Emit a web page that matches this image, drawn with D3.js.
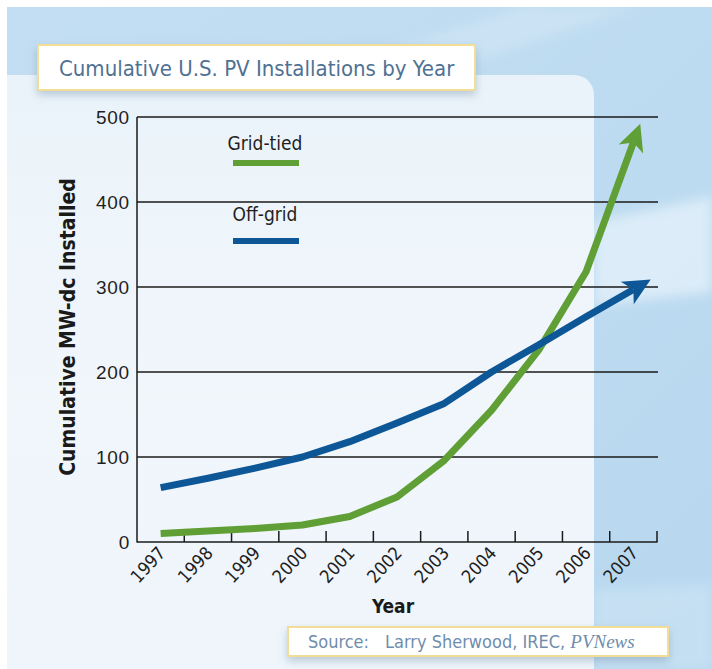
<!DOCTYPE html>
<html>
<head>
<meta charset="utf-8">
<script src="https://cdn.jsdelivr.net/npm/d3@7"></script>
<style>
  html, body { margin: 0; padding: 0; background: #fff; }
  svg { display: block; }
  .cond { font-family: "Liberation Sans Narrow", "DejaVu Sans Condensed", "Liberation Sans", sans-serif; }
</style>
</head>
<body>
<svg id="chart" width="712" height="669"></svg>
<script>
// Cumulative installed capacity (MW-dc) by year
const years = [1997, 1998, 1999, 2000, 2001, 2002, 2003, 2004, 2005, 2006, 2007];
const gridTied = [10, 13, 16, 20, 30, 53, 96, 155, 226, 318, 470];
const offGrid = [64, 75, 87, 100, 118, 140, 163, 200, 232, 265, 297];
const yTicks = [0, 100, 200, 300, 400, 500];
const seriesNames = ["Grid-tied", "Off-grid"];
const seriesColors = ["#5f9f35", "#0d5797"];

const svg = d3.select("#chart");
const defs = svg.append("defs");

// ---- background ----
const bg = defs.append("linearGradient").attr("id", "bgGrad")
  .attr("x1", 0).attr("y1", 0).attr("x2", 1).attr("y2", 1);
bg.append("stop").attr("offset", 0).attr("stop-color", "#c3def2");
bg.append("stop").attr("offset", 1).attr("stop-color", "#b8d8ef");

const panelGrad = defs.append("linearGradient").attr("id", "panelGrad")
  .attr("x1", 0).attr("y1", 0).attr("x2", 0).attr("y2", 1);
panelGrad.append("stop").attr("offset", 0).attr("stop-color", "#eaf3fa");
panelGrad.append("stop").attr("offset", 0.5).attr("stop-color", "#f1f6fb");
panelGrad.append("stop").attr("offset", 1).attr("stop-color", "#eef5fb");

const shadow = defs.append("filter").attr("id", "shadow")
  .attr("x", "-10%").attr("y", "-30%").attr("width", "120%").attr("height", "180%");
shadow.append("feDropShadow").attr("dx", 0).attr("dy", 4).attr("stdDeviation", 4)
  .attr("flood-color", "#5a7a96").attr("flood-opacity", 0.35);

const soft = defs.append("filter").attr("id", "soft");
soft.append("feGaussianBlur").attr("stdDeviation", 6);

svg.append("rect").attr("x", 7).attr("y", 7).attr("width", 705).attr("height", 662)
  .attr("fill", "url(#bgGrad)");
// light sweeps across the backdrop
svg.append("path").attr("d", "M300,80 L520,7 L640,7 L420,80 Z")
  .attr("fill", "#ffffff").attr("opacity", 0.18).attr("filter", "url(#soft)");
svg.append("path").attr("d", "M594,222 C640,212 680,204 712,196 L712,292 C680,296 640,300 594,306 Z")
  .attr("fill", "#e4f1fa").attr("opacity", 0.8).attr("filter", "url(#soft)");
svg.append("path").attr("d", "M594,590 L712,585 L712,669 L594,669 Z")
  .attr("fill", "#cfe5f5").attr("opacity", 0.6).attr("filter", "url(#soft)");

// main light panel
svg.append("rect").attr("x", -20).attr("y", 75).attr("width", 614).attr("height", 640)
  .attr("rx", 20).attr("fill", "url(#panelGrad)");
svg.append("rect").attr("x", 0).attr("y", 0).attr("width", 7).attr("height", 669).attr("fill", "#fff");

// ---- title box ----
svg.append("rect").attr("x", 38).attr("y", 45).attr("width", 437).attr("height", 45)
  .attr("fill", "#ffffff").attr("stroke", "#f2dd97").attr("stroke-width", 2)
  .attr("filter", "url(#shadow)");
svg.append("text").attr("class", "cond")
  .attr("x", 59).attr("y", 76).attr("font-size", 22).attr("fill", "#4f7193")
  .text("Cumulative U.S. PV Installations by Year");

// ---- scales ----
const x = d3.scaleBand().domain(years).range([137, 657]).paddingInner(0).paddingOuter(0);
const y = d3.scaleLinear().domain([0, 500]).range([542, 117]);
const cx = d => x(d) + x.bandwidth() / 2;

// gridlines
svg.append("g").selectAll("line").data(yTicks.filter(t => t > 0)).join("line")
  .attr("x1", 137).attr("x2", 658)
  .attr("y1", d => y(d)).attr("y2", d => y(d))
  .attr("stroke", "#1a1a1a").attr("stroke-width", 1.3);

// y axis (labels only, line drawn separately)
const yAxis = d3.axisLeft(y).tickValues(yTicks).tickSize(0).tickPadding(7);
const gy = svg.append("g").attr("transform", "translate(137,0)").call(yAxis);
gy.select(".domain").remove();
gy.selectAll("text")
  .attr("font-family", "'Liberation Sans', Arial, sans-serif")
  .attr("font-size", 19).attr("fill", "#1f1f1f").attr("letter-spacing", 0.8);

svg.append("line").attr("x1", 137).attr("x2", 137).attr("y1", 117).attr("y2", 542.5)
  .attr("stroke", "#1a1a1a").attr("stroke-width", 1.5);

// x axis: ticks on band boundaries, pointing up
const gx = svg.append("g");
gx.append("line").attr("x1", 137).attr("x2", 657.5).attr("y1", 542).attr("y2", 542)
  .attr("stroke", "#1a1a1a").attr("stroke-width", 1.5);
gx.selectAll("line.tick").data(years).join("line").attr("class", "tick")
  .attr("x1", d => x(d) + x.bandwidth()).attr("x2", d => x(d) + x.bandwidth())
  .attr("y1", 542).attr("y2", 531)
  .attr("stroke", "#1a1a1a").attr("stroke-width", 1.5);
gx.selectAll("text").data(years).join("text").attr("class", "cond")
  .attr("transform", d => `translate(${cx(d) + 6},${554}) rotate(-47)`)
  .attr("text-anchor", "end").attr("font-size", 18).attr("fill", "#1f1f1f")
  .text(d => d);

// axis titles
svg.append("text").attr("class", "cond")
  .attr("transform", "translate(75,327) rotate(-90)")
  .attr("text-anchor", "middle").attr("font-size", 21).attr("font-weight", "bold")
  .attr("fill", "#1a1a1a").text("Cumulative MW-dc Installed");
svg.append("text").attr("class", "cond")
  .attr("x", 393).attr("y", 613).attr("text-anchor", "middle")
  .attr("font-size", 19).attr("font-weight", "bold").attr("fill", "#1a1a1a").text("Year");

// ---- arrowheads ----
function arrow(id, color) {
  defs.append("marker").attr("id", id)
    .attr("markerUnits", "userSpaceOnUse")
    .attr("viewBox", "-10 -16 34 32").attr("markerWidth", 34).attr("markerHeight", 32)
    .attr("refX", 0).attr("refY", 0).attr("orient", "auto")
    .append("path").attr("d", "M20,0 L-7,-13 L0,0 L-7,13 Z").attr("fill", color);
}
arrow("arrowGreen", seriesColors[0]);
arrow("arrowBlue", seriesColors[1]);

// ---- series lines ----
const line = d3.line().x((d, i) => cx(years[i])).y(d => y(d)).curve(d3.curveLinear);
const series = [
  { values: gridTied, color: seriesColors[0], marker: "arrowGreen" },
  { values: offGrid, color: seriesColors[1], marker: "arrowBlue" }
];
svg.append("g").selectAll("path").data(series).join("path")
  .attr("d", s => line(s.values))
  .attr("fill", "none").attr("stroke", s => s.color).attr("stroke-width", 7)
  .attr("stroke-linejoin", "round")
  .attr("marker-end", s => `url(#${s.marker})`);

// ---- legend ----
const legendY = [150, 221];
const lg = svg.append("g");
seriesNames.forEach((name, i) => {
  lg.append("text").attr("class", "cond")
    .attr("x", 265).attr("y", legendY[i]).attr("text-anchor", "middle")
    .attr("font-size", 19).attr("fill", "#1f1f1f").text(name);
  lg.append("line").attr("x1", 233).attr("x2", 299)
    .attr("y1", legendY[i] + 13 + i * 7).attr("y2", legendY[i] + 13 + i * 7)
    .attr("stroke", seriesColors[i]).attr("stroke-width", 6);
});

// ---- source note ----
svg.append("rect").attr("x", 288).attr("y", 627).attr("width", 380).attr("height", 29)
  .attr("fill", "#ffffff").attr("stroke", "#f2dd97").attr("stroke-width", 2)
  .attr("filter", "url(#shadow)");
const src = svg.append("text").attr("class", "cond")
  .attr("x", 308).attr("y", 648).attr("font-size", 18).attr("fill", "#6f8dac");
src.append("tspan").text("Source:");
src.append("tspan").attr("x", 385).text("Larry Sherwood, IREC, ");
src.append("tspan").attr("font-family", "'Liberation Serif', 'DejaVu Serif', serif")
  .attr("font-style", "italic").attr("font-size", 19).text("PVNews");
</script>
</body>
</html>
